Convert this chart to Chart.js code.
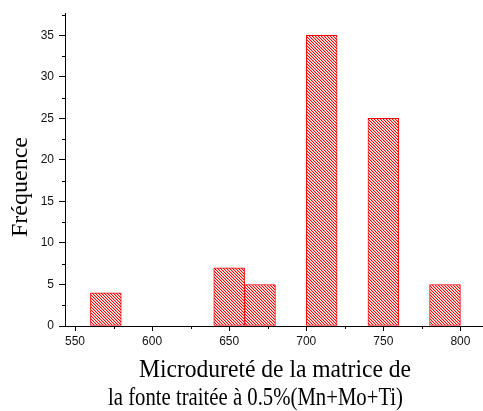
<!DOCTYPE html>
<html>
<head>
<meta charset="utf-8">
<script src="https://cdn.jsdelivr.net/npm/chart.js@4.4.0/dist/chart.umd.min.js"></script>
<style>
  body { margin: 0; background: #fff; }
  #wrap { width: 483px; height: 411px; }
</style>
</head>
<body>
<div id="wrap"><canvas id="histo" width="483" height="411"></canvas></div>
<script>
// bins are 20 wide
const binCenters = [570, 650, 670, 710, 750, 790];
const counts = [4, 7, 5, 35, 25, 5];
const xTicks = [550, 600, 650, 700, 750, 800];
const yTicks = [0, 5, 10, 15, 20, 25, 30, 35];
const yTitle = "Fréquence";
const xTitleLines = ["Microdureté de la matrice de", "la fonte traitée à 0.5%(Mn+Mo+Ti)"];

const ctx = document.getElementById('histo').getContext('2d');

// red "\\\" hatch like the Origin fill
function makeHatch() {
    const c = document.createElement('canvas');
    c.width = 3; c.height = 3;
    const g = c.getContext('2d');
    g.fillStyle = '#fff';
    g.fillRect(0, 0, 3, 3);
    for (let i = 0; i < 3; i++) {
        g.fillStyle = '#ff0000';
        g.fillRect(i, i, 1, 1);
        g.fillStyle = 'rgba(255,0,0,0.3)';
        g.fillRect((i + 1) % 3, i, 1, 1);
    }
    return ctx.createPattern(c, 'repeat');
}

// draw a line of text squeezed/stretched to a given width
function fitText(c, text, left, right, baseline) {
    const w = c.measureText(text).width;
    c.save();
    c.translate((left + right) / 2, baseline);
    c.scale((right - left) / w, 1);
    c.fillText(text, 0, 0);
    c.restore();
}

// minor ticks + the serif titles
const extras = {
    id: 'extras',
    afterDraw(chart) {
        const c = chart.ctx;
        const x = chart.scales.x, y = chart.scales.y;
        const area = chart.chartArea;
        c.save();
        c.strokeStyle = '#000';
        c.lineWidth = 1;
        c.beginPath();
        for (let i = 0; i < yTicks.length; i++) {
            const v = yTicks[i] + 2.5;
            if (v > y.max) break;
            const py = Math.round(y.getPixelForValue(v)) + 0.5;
            c.moveTo(area.left - 3, py);
            c.lineTo(area.left, py);
        }
        for (let i = 0; i < xTicks.length; i++) {
            const v = xTicks[i] + 25;
            if (v > x.max) break;
            const px = Math.round(x.getPixelForValue(v)) + 0.5;
            c.moveTo(px, area.bottom);
            c.lineTo(px, area.bottom + 3);
        }
        c.stroke();

        c.fillStyle = '#000';
        c.textBaseline = 'alphabetic';
        c.textAlign = 'center';
        c.font = '23px "Liberation Serif", "Times New Roman", serif';
        c.save();
        c.translate(27, 187);
        c.rotate(-Math.PI / 2);
        fitText(c, yTitle, -50, 50, 0);
        c.restore();

        c.font = '25px "Liberation Serif", "Times New Roman", serif';
        fitText(c, xTitleLines[0], 139, 411, 377);
        fitText(c, xTitleLines[1], 108, 403, 405);
        c.restore();
    }
};

const tickFont = { family: '"Liberation Sans", Arial, sans-serif', size: 12 };

new Chart(ctx, {
    type: 'bar',
    data: {
        datasets: [{
            data: binCenters.map((b, i) => ({ x: b, y: counts[i] })),
            backgroundColor: makeHatch(),
            borderColor: '#ff0000',
            borderWidth: 1,
            borderSkipped: false,
            barPercentage: 1,
            categoryPercentage: 1
        }]
    },
    options: {
        responsive: false,
        animation: false,
        layout: { padding: { top: 13, right: 1, left: 0, bottom: 0 } },
        plugins: { legend: { display: false }, tooltip: { enabled: false } },
        scales: {
            x: {
                type: 'linear',
                offset: false,
                min: 543.5,
                max: 814,
                afterBuildTicks: s => { s.ticks = xTicks.map(v => ({ value: v })); },
                afterFit: s => { s.height = 85; },
                grid: { display: true, drawOnChartArea: false, drawTicks: true, tickLength: 5, color: '#000', offset: false },
                border: { display: true, color: '#000', width: 1 },
                ticks: { color: '#111', font: tickFont, padding: 3, maxRotation: 0 }
            },
            y: {
                min: 0,
                max: 37.7,
                afterBuildTicks: s => { s.ticks = yTicks.map(v => ({ value: v })); },
                afterFit: s => { s.width = 65; },
                grid: { display: true, drawOnChartArea: false, drawTicks: true, tickLength: 6, color: '#000' },
                border: { display: true, color: '#000', width: 1 },
                ticks: { color: '#111', font: tickFont, padding: 5 }
            }
        }
    },
    plugins: [extras]
});
</script>
</body>
</html>
